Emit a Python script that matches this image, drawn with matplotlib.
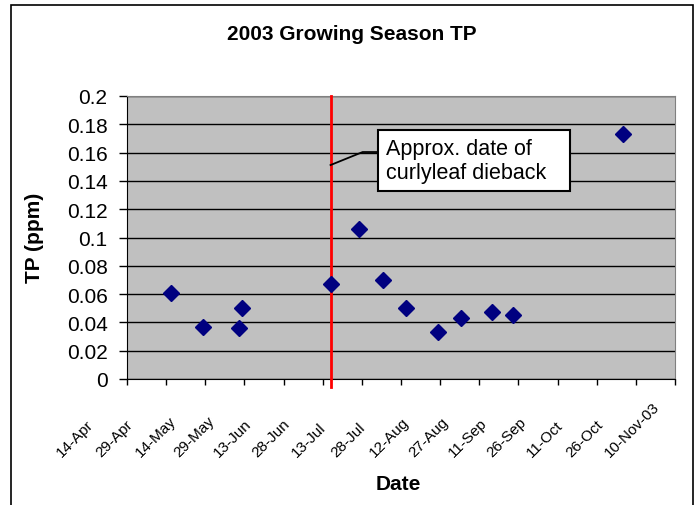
import numpy as np
import matplotlib
matplotlib.use("Agg")
import matplotlib.pyplot as plt
from matplotlib.patches import Rectangle
from matplotlib.transforms import ScaledTranslation

plt.rcParams['font.family'] = ['Liberation Sans', 'DejaVu Sans']

# Sampling dates and total phosphorus (ppm), 2003 season
sample_dates = ['2003-05-01', '2003-05-13', '2003-05-28', '2003-05-27',
                '2003-07-01', '2003-07-12', '2003-07-21', '2003-07-30',
                '2003-08-11', '2003-08-20', '2003-09-01', '2003-09-09',
                '2003-10-21']
tp_values = [0.061, 0.037, 0.050, 0.036,
             0.067, 0.106, 0.070, 0.050,
             0.033, 0.043, 0.047, 0.045,
             0.173]

# Axis ticks every 15 days from 14-Apr to 10-Nov
axis_start = '2003-04-14'
axis_end = '2003-11-10'
tick_labels = ['14-Apr', '29-Apr', '14-May', '29-May', '13-Jun', '28-Jun',
               '13-Jul', '28-Jul', '12-Aug', '27-Aug', '11-Sep', '26-Sep',
               '11-Oct', '26-Oct', '10-Nov-03']

dieback_date = '2003-07-01'
note_text = 'Approx. date of\ncurlyleaf dieback'

t0 = np.datetime64(axis_start)
days = (np.array(sample_dates, dtype='datetime64[D]') - t0).astype(int)
span = int((np.datetime64(axis_end) - t0).astype(int))
ticks = np.arange(0, span + 1, 15)
dieback = int((np.datetime64(dieback_date) - t0).astype(int))

fig = plt.figure(figsize=(6.99, 5.06), dpi=100)
ax = fig.add_axes([127 / 699, 1 - 380 / 506, 548 / 699, 283 / 506])

# outer chart border
fig.patches.append(Rectangle((11 / 699, -0.05), 682 / 699, 1.05 - 6 / 506,
                             transform=fig.transFigure, fill=False,
                             edgecolor='black', linewidth=1.2))

ax.set_facecolor('#c0c0c0')
ax.set_xlim(0, span)
ax.set_ylim(0, 0.2)
ax.set_yticks(np.arange(0, 0.201, 0.02))
ax.set_yticklabels(['0', '0.02', '0.04', '0.06', '0.08', '0.1', '0.12',
                    '0.14', '0.16', '0.18', '0.2'], fontsize=15)
ax.grid(axis='y', color='black', linewidth=1)
ax.set_axisbelow(True)

for side in ['top', 'right']:
    ax.spines[side].set_color('#808080')
for side in ['left', 'bottom']:
    ax.spines[side].set_color('black')
ax.tick_params(axis='y', direction='out', length=6, width=1, pad=8)
ax.tick_params(axis='x', direction='out', length=4, width=1)

ax.set_xticks(ticks)
ax.set_xticklabels([])
offset = ScaledTranslation(-0.65, 0, fig.dpi_scale_trans)
for tk, lab in zip(ticks, tick_labels):
    ax.text(tk, -78 / 283, lab, transform=ax.get_xaxis_transform() + offset,
            rotation=45, rotation_mode='anchor', ha='left', va='baseline',
            fontsize=11, clip_on=False)

# dieback marker line
ax.plot([dieback, dieback], [-8 / 283, 1], color='red', linewidth=2,
        transform=ax.get_xaxis_transform(), clip_on=False, zorder=3)

ax.plot(days, tp_values, linestyle='none', marker='D', markersize=8,
        color='#000080', zorder=4)

# callout box
ax.plot([dieback, 90.3, 96.2], [0.1512, 0.1604, 0.1604], color='black',
        linewidth=1.3, zorder=3)
ax.add_patch(Rectangle((96.2, 0.1329), 73.5, 0.0431, facecolor='white',
                       edgecolor='black', linewidth=1.5, zorder=5))
ax.text(99.3, 0.1545, note_text, fontsize=15.5, ha='left', va='center',
        linespacing=1.2, zorder=6)

fig.text(352 / 699, 1 - 35 / 506, '2003 Growing Season TP', fontsize=15,
         fontweight='bold', ha='center', va='center')
fig.text(35 / 699, 1 - 238 / 506, 'TP (ppm)', fontsize=15, fontweight='bold',
         rotation=90, ha='center', va='center')
fig.text(398 / 699, 1 - 485 / 506, 'Date', fontsize=15, fontweight='bold',
         ha='center', va='center')

fig.savefig('out.png', dpi=100)
